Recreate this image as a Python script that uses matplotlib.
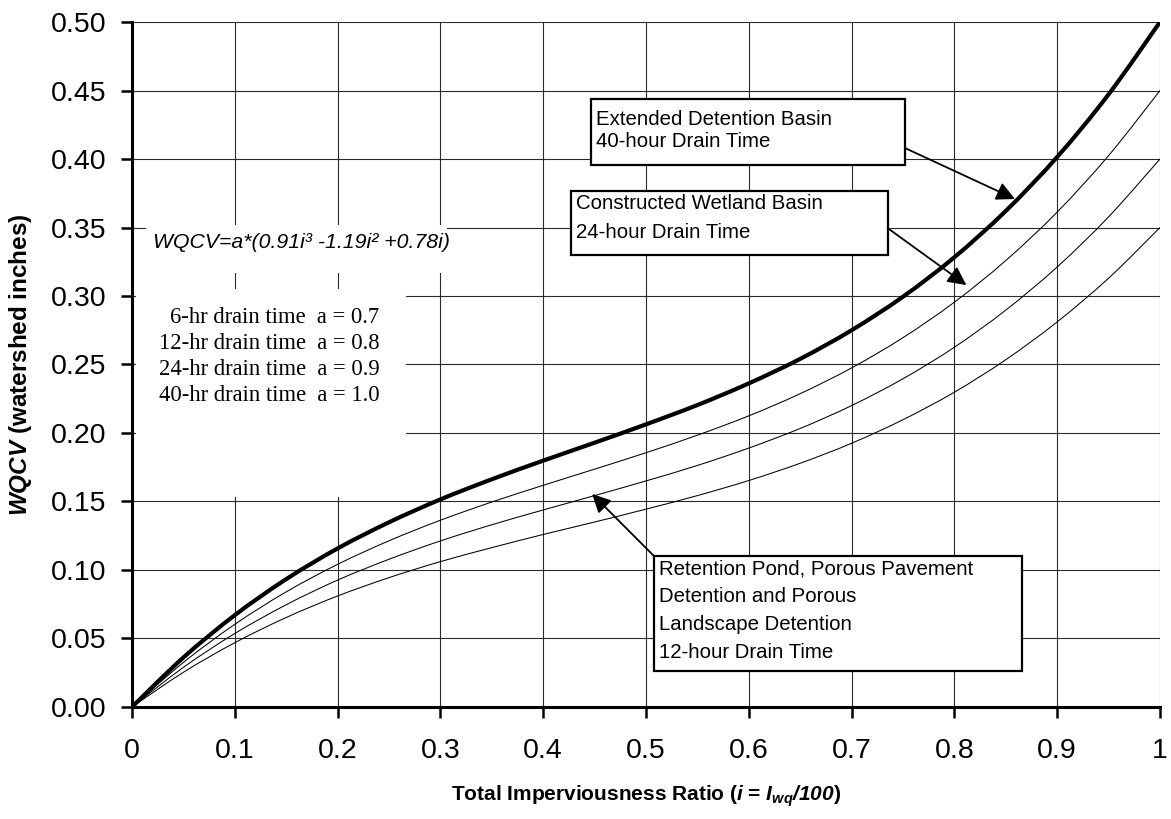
import matplotlib
matplotlib.use("Agg")
import matplotlib.pyplot as plt
from matplotlib.patches import Rectangle, PathPatch
from matplotlib.path import Path

# ---------------------------------
# DATA
# ---------------------------------

imperv = [0.00, 0.05, 0.10, 0.15, 0.20, 0.25, 0.30, 0.35, 0.40, 0.45, 0.50,
          0.55, 0.60, 0.65, 0.70, 0.75, 0.80, 0.85, 0.90, 0.95, 1.00]

wqcv_40hr = [0.0000, 0.0361, 0.0670, 0.0933, 0.1157, 0.1348, 0.1515, 0.1662,
             0.1798, 0.1929, 0.2063, 0.2204, 0.2362, 0.2541, 0.2750, 0.2995,
             0.3283, 0.3621, 0.4015, 0.4472, 0.5000]
wqcv_24hr = [0.0000, 0.0325, 0.0603, 0.0840, 0.1041, 0.1213, 0.1363, 0.1496,
             0.1618, 0.1736, 0.1856, 0.1984, 0.2125, 0.2287, 0.2475, 0.2696,
             0.2955, 0.3259, 0.3613, 0.4025, 0.4500]
wqcv_12hr = [0.0000, 0.0289, 0.0536, 0.0746, 0.0926, 0.1078, 0.1212, 0.1330,
             0.1438, 0.1543, 0.1650, 0.1763, 0.1890, 0.2033, 0.2200, 0.2396,
             0.2626, 0.2897, 0.3212, 0.3578, 0.4000]
wqcv_6hr = [0.0000, 0.0253, 0.0469, 0.0653, 0.0810, 0.0944, 0.1061, 0.1163,
            0.1259, 0.1350, 0.1444, 0.1543, 0.1653, 0.1779, 0.1925, 0.2097,
            0.2298, 0.2535, 0.2811, 0.3130, 0.3500]

x_ticks = [0, 0.1, 0.2, 0.3, 0.4, 0.5, 0.6, 0.7, 0.8, 0.9, 1.0]
x_tick_labels = ["0", "0.1", "0.2", "0.3", "0.4", "0.5", "0.6", "0.7", "0.8", "0.9", "1"]
y_ticks = [0.00, 0.05, 0.10, 0.15, 0.20, 0.25, 0.30, 0.35, 0.40, 0.45, 0.50]

formula_text = "WQCV=a*(0.91i³ -1.19i² +0.78i)"
drain_lines = ["6-hr drain time  a = 0.7",
               "12-hr drain time  a = 0.8",
               "24-hr drain time  a = 0.9",
               "40-hr drain time  a = 1.0"]
label_40hr = ["Extended Detention Basin", "40-hour Drain Time"]
label_24hr = ["Constructed Wetland Basin", "24-hour Drain Time"]
label_12hr = ["Retention Pond, Porous Pavement", "Detention and Porous",
              "Landscape Detention", "12-hour Drain Time"]

# ---------------------------------
# STYLE
# ---------------------------------

plt.rcParams["font.family"] = ["Liberation Sans", "DejaVu Sans"]
plt.rcParams["mathtext.fontset"] = "custom"
plt.rcParams["mathtext.it"] = "Liberation Sans:bold:italic"
plt.rcParams["mathtext.rm"] = "Liberation Sans:bold:italic"


def smooth_path(xs, ys):
    """Smoothed line through the points (like a spreadsheet 'smoothed line')."""
    pts = list(zip(xs, ys))
    n = len(pts)
    verts = [pts[0]]
    codes = [Path.MOVETO]
    for i in range(n - 1):
        p0 = pts[max(i - 1, 0)]
        p1 = pts[i]
        p2 = pts[i + 1]
        p3 = pts[min(i + 2, n - 1)]
        c1 = (p1[0] + (p2[0] - p0[0]) / 6, p1[1] + (p2[1] - p0[1]) / 6)
        c2 = (p2[0] - (p3[0] - p1[0]) / 6, p2[1] - (p3[1] - p1[1]) / 6)
        verts += [c1, c2, p2]
        codes += [Path.CURVE4] * 3
    return Path(verts, codes)


fig = plt.figure(figsize=(11.71, 8.19), dpi=100)
ax = fig.add_axes([0.1127, 0.1368, 0.9906 - 0.1127, 0.9731 - 0.1368])

# curves
ax.add_patch(PathPatch(smooth_path(imperv, wqcv_40hr), fill=False,
                       ec="black", lw=3.0, zorder=4, joinstyle="round"))
for series in (wqcv_24hr, wqcv_12hr, wqcv_6hr):
    ax.add_patch(PathPatch(smooth_path(imperv, series), fill=False,
                           ec="black", lw=0.75, zorder=4))

ax.set_xlim(0, 1)
ax.set_ylim(0, 0.5)
ax.set_xticks(x_ticks)
ax.set_xticklabels(x_tick_labels)
ax.set_yticks(y_ticks)
ax.set_yticklabels([f"{v:.2f}" for v in y_ticks])

ax.grid(True, color="#2a2a2a", lw=0.8)
ax.set_axisbelow(True)

for side in ("top", "right"):
    ax.spines[side].set_visible(False)
for side in ("left", "bottom"):
    ax.spines[side].set_linewidth(2.2)
    ax.spines[side].set_zorder(6)

ax.tick_params(axis="both", direction="out", length=8, width=1.8,
               labelsize=20.5, colors="black")
ax.tick_params(axis="x", pad=14.5)
ax.tick_params(axis="y", pad=10.5)

ax.set_xlabel(r"Total Imperviousness Ratio ($i$ = $I_{wq}/100$)",
              fontsize=15, fontweight="bold", labelpad=14)
ax.set_ylabel(r"$WQCV$ (watershed inches)",
              fontsize=17.5, fontweight="bold", labelpad=12)

# white panels behind the notes (they hide the grid)
ax.add_patch(Rectangle((0.014, 0.317), 0.292, 0.035, fc="white", ec="none",
                       zorder=1))
ax.add_patch(Rectangle((0.004, 0.153), 0.263, 0.152, fc="white", ec="none",
                       zorder=1))

ax.text(0.0204, 0.3387, formula_text, fontsize=15.3, style="italic",
        ha="left", va="center", zorder=3)

for k, line in enumerate(drain_lines):
    ax.text(0.2408, 0.2846 - 0.019 * k, line, fontsize=16.3,
            family=["Liberation Serif", "DejaVu Serif"],
            ha="right", va="center", zorder=3)


def note_box(x0, x1, y0, y1, tx, ty, lines, dy):
    ax.add_patch(Rectangle((x0, y0), x1 - x0, y1 - y0, fc="white",
                           ec="black", lw=1.6, zorder=5))
    for k, line in enumerate(lines):
        ax.text(tx, ty - dy * k, line, fontsize=14.7, ha="left",
                va="center", zorder=6)


note_box(0.4466, 0.752, 0.3956, 0.4438, 0.4515, 0.4285, label_40hr, 0.0154)
note_box(0.427, 0.735, 0.330, 0.3766, 0.432, 0.3672, label_24hr, 0.0212)
note_box(0.508, 0.866, 0.026, 0.110, 0.5126, 0.1007, label_12hr, 0.0202)

arrow = dict(arrowstyle="-|>", color="black", lw=1.3, mutation_scale=28,
             shrinkA=0, shrinkB=0)
ax.annotate("", xy=(0.859, 0.3708), xytext=(0.752, 0.408),
            arrowprops=arrow, zorder=7)
ax.annotate("", xy=(0.8117, 0.308), xytext=(0.735, 0.3496),
            arrowprops=arrow, zorder=7)
ax.annotate("", xy=(0.4476, 0.1555), xytext=(0.508, 0.110),
            arrowprops=arrow, zorder=7)

fig.savefig("out.png", dpi=100)
